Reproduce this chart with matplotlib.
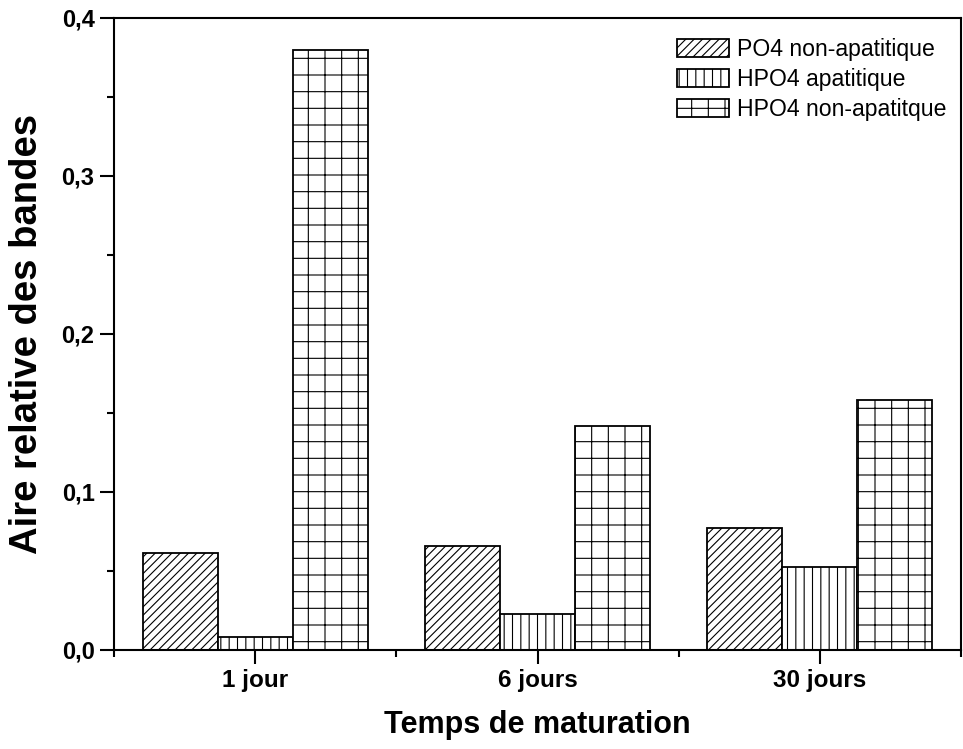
import numpy as np
import matplotlib
matplotlib.use('Agg')
import matplotlib.pyplot as plt
from matplotlib.ticker import MultipleLocator, FixedLocator, FuncFormatter

plt.rcParams['font.family'] = ['Liberation Sans', 'DejaVu Sans']
plt.rcParams['hatch.linewidth'] = 0.8

# data
categories = ['1 jour', '6 jours', '30 jours']
series_names = ['PO4 non-apatitique', 'HPO4 apatitique', 'HPO4 non-apatitque']
po4_non_apatitique = [0.0614, 0.0660, 0.0774]
hpo4_apatitique = [0.0082, 0.0226, 0.0527]
hpo4_non_apatitique = [0.380, 0.142, 0.158]

series = [po4_non_apatitique, hpo4_apatitique, hpo4_non_apatitique]
hatches = ['////', '||', '+']

fig = plt.figure(figsize=(9.63, 7.49), dpi=100)
ax = fig.add_axes([0.1184, 0.1322, 0.8796, 0.8438])

x = np.arange(1, len(categories) + 1)
width = 0.2655
for i, (vals, name, h) in enumerate(zip(series, series_names, hatches)):
    ax.bar(x + (i - 1) * width, vals, width, facecolor='white', edgecolor='black',
           linewidth=1.3, hatch=h, label=name)

ax.set_xlim(0.5, 3.5)
ax.set_ylim(0, 0.4)

ax.set_xticks(x)
ax.set_xticklabels(categories, fontsize=17.5, fontweight='bold')
ax.xaxis.set_minor_locator(FixedLocator([0.5, 1.5, 2.5, 3.5]))
ax.yaxis.set_major_locator(MultipleLocator(0.1))
ax.yaxis.set_minor_locator(MultipleLocator(0.05))
ax.yaxis.set_major_formatter(FuncFormatter(lambda v, p: f'{v:.1f}'.replace('.', ',')))
for lab in ax.get_yticklabels():
    lab.set_fontsize(17)
    lab.set_fontweight('bold')

ax.tick_params(which='major', direction='out', length=10, width=1.5, pad=4)
ax.tick_params(which='minor', direction='out', length=5, width=1.5)
for s in ax.spines.values():
    s.set_linewidth(1.5)

ax.set_xlabel('Temps de maturation', fontsize=22, fontweight='bold', labelpad=13)
ax.set_ylabel('Aire relative des bandes', fontsize=27.5, fontweight='bold', labelpad=12)

ax.legend(loc='upper left', bbox_to_anchor=(0.665, 0.968), frameon=False,
          fontsize=16.6, borderpad=0, handlelength=2.25, handleheight=0.82,
          handletextpad=0.36, labelspacing=0.3, borderaxespad=0)

fig.savefig('out.png', dpi=100)
